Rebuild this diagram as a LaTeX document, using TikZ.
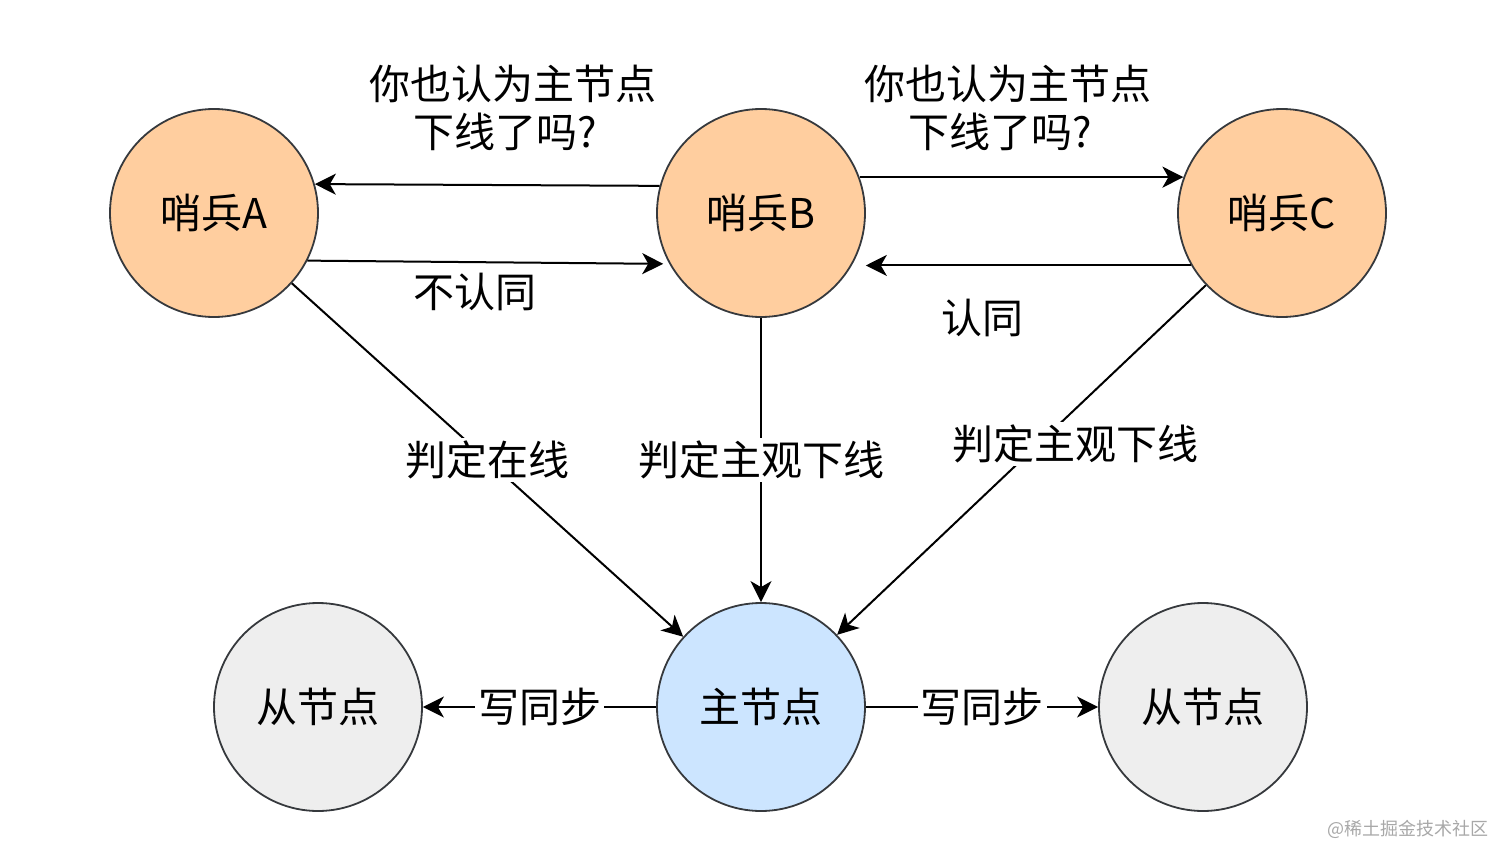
\documentclass[tikz,border=0pt]{standalone}
\usepackage{fontspec}
\setmainfont{Noto Sans CJK SC}
\usetikzlibrary{arrows.meta}
\definecolor{orangefill}{HTML}{FFCE9F}
\definecolor{bluefill}{HTML}{CCE5FF}
\definecolor{grayfill}{HTML}{EEEEEE}
\definecolor{bordercol}{HTML}{36393D}
\definecolor{markcol}{HTML}{A8A8A8}
\begin{document}
\begin{tikzpicture}[x=0.5pt,y=-0.5pt,
  circ/.style={circle,draw=bordercol,line width=0.9pt,minimum size=104pt,inner sep=0pt,font=\fontsize{20.5}{24}\selectfont},
  sentinel/.style={circ,fill=orangefill},
  master/.style={circ,fill=bluefill},
  slave/.style={circ,fill=grayfill},
  conn/.style={line width=1pt,-{Stealth[length=10.5pt,width=10.5pt,inset=3pt]}},
  elabel/.style={fill=white,inner sep=1.5pt,font=\fontsize{20.5}{24}\selectfont},
  txt/.style={align=center,font=\fontsize{20.5}{24}\selectfont}]
\useasboundingbox (0,0) rectangle (1512,863);

\node[sentinel] (A) at (214,213) {哨兵A};
\node[sentinel] (B) at (761,213) {哨兵B};
\node[sentinel] (C) at (1282,213) {哨兵C};
\node[master] (M) at (761,707) {主节点};
\node[slave] (SL) at (318,707) {从节点};
\node[slave] (SR) at (1203,707) {从节点};

\draw[conn] (B.165) -- (A.16);
\draw[conn] (A.-27) -- ([xshift=-3pt]B.209);
\draw[conn] (B.20) -- (C.160);
\draw[conn] (C.210) -- ([xshift=7pt]B.-30);

\draw[conn] (A) -- node[elabel,pos=0.5] {判定在线} (M);
\draw[conn] (B) -- node[elabel,pos=0.5] {判定主观下线} (M);
\draw[conn] (C) -- node[elabel,pos=0.454,xshift=18.5pt] {判定主观下线} (M);
\draw[conn] (M) -- node[elabel,pos=0.5] {写同步} (SL);
\draw[conn] (M) -- node[elabel,pos=0.5] {写同步} (SR);

\node[txt] (q1) at (513,108) {你也认为主节点\\\hspace*{-8pt}下线了吗?};
\node[txt] (q2) at (1008,108) {你也认为主节点\\\hspace*{-8pt}下线了吗?};
\node[txt] (n1) at (475,292) {不认同};
\node[txt] (n2) at (982,318) {认同};
\node[font=\fontsize{9}{11}\selectfont,text=markcol] (wm) at (1408,829) {@稀土掘金技术社区};
\end{tikzpicture}
\end{document}
